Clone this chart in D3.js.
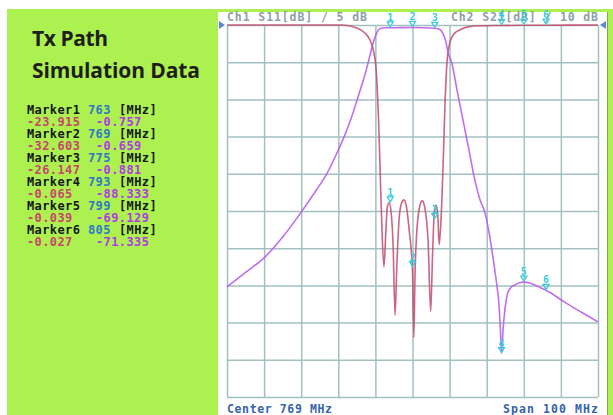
<!DOCTYPE html>
<html>
<head>
    <title>Tx Path Simulation Data</title>
    <script src="https://d3js.org/d3.v7.min.js"></script>
    <style>
        body { margin: 0; background: #fff; }
        .mono { font-family: "DejaVu Sans Mono", "Liberation Mono", monospace; font-weight: bold; }
    </style>
</head>
<body>
<div id="chart"></div>
<script>
    // Frequency axis (MHz)
    var centerFreq = 769, spanFreq = 100;

    // S11 trace (dB)
    var s11Freq = [719, 740, 750, 754, 756, 757.5, 758.5, 759.2, 759.8, 760.3, 760.8, 761.3, 761.8, 762.2, 762.7, 763.2, 763.8, 764.3, 764.8, 765.4, 766, 766.7, 767.4, 768.2, 768.7, 769, 769.35, 769.7, 770.2, 770.9, 771.6, 772.3, 773.2, 773.9, 774.4, 774.9, 775.3, 775.8, 776.2, 776.7, 777.3, 777.8, 778.3, 779, 780, 782, 784, 787, 793, 799, 805, 819];
    var s11Db   = [0, 0, 0, -0.4, -1, -2, -3.5, -6, -12, -20, -28, -32.5, -28, -24.5, -23.9, -25, -30, -39, -32, -26, -24, -23.5, -24.5, -28, -30.5, -33, -42, -33, -27.5, -24.5, -23.6, -24.5, -29, -38.5, -31, -25, -24.2, -25.5, -29.5, -26, -18, -10, -5, -2.5, -1.3, -0.6, -0.25, -0.1, -0.065, -0.039, -0.027, 0];

    // S21 trace (dB)
    var s21Freq = [719, 724, 729, 734, 739, 743, 746, 749, 751, 752.5, 754.3, 756, 757.2, 758.1, 759, 759.7, 760.5, 761.5, 763, 769, 775, 776.4, 777.3, 778, 778.6, 779.6, 781, 782.6, 784.2, 785.8, 787.2, 788.5, 789.5, 790.4, 791.2, 791.8, 792.3, 792.7, 793, 793.4, 793.9, 794.7, 795.5, 796.6, 797.8, 799, 801, 803, 805, 810, 815, 819];
    var s21Db   = [-70.4, -66.5, -62.6, -57, -50.3, -44.5, -39.8, -33.6, -29, -25, -19.4, -14, -9.5, -5.9, -3, -1.5, -0.9, -0.75, -0.757, -0.659, -0.881, -1.2, -2.5, -4.5, -7.5, -10.2, -17.5, -25.5, -33.5, -41.7, -47, -50.3, -55, -60.5, -66, -70.4, -75, -82, -88.3, -82, -76.6, -72, -70.6, -69.9, -69.3, -69.13, -69.5, -70.4, -71.3, -74.5, -77.5, -79.8];

    // Markers
    var markerNames = ['1', '2', '3', '4', '5', '6'];
    var markerFreq  = [763, 769, 775, 793, 799, 805];
    var markerS11   = [-23.915, -32.603, -26.147, -0.065, -0.039, -0.027];
    var markerS21   = [-0.757, -0.659, -0.881, -88.333, -69.129, -71.335];

    var W = 613, H = 415;
    var green = '#adf150';
    var s11Color = '#c24a6c', s21Color = '#b455ec', markColor = '#3ccbdc';
    var gridColor = '#a2c0c0';

    var svg = d3.select('#chart').append('svg')
        .attr('width', W).attr('height', H);

    svg.append('rect').attr('x', 7).attr('y', 9).attr('width', W - 7).attr('height', H - 9).attr('fill', green);
    svg.append('rect').attr('x', 218).attr('y', 12).attr('width', 389).attr('height', H - 12).attr('fill', '#fff');
    svg.append('line').attr('x1', 607.5).attr('x2', 607.5).attr('y1', 12).attr('y2', H)
        .attr('stroke', '#7fa848').attr('stroke-width', 1);

    // Title
    var title = svg.append('g').attr('fill', '#1e1e1e')
        .style('font-family', '"Open Sans", "Noto Sans", sans-serif')
        .style('font-weight', 'bold').style('font-size', '21px');
    title.append('text').attr('x', 32).attr('y', 46).attr('textLength', 76).text('Tx Path');
    title.append('text').attr('x', 32).attr('y', 78).attr('textLength', 168).text('Simulation Data');

    // Marker readout
    var readout = svg.append('g').attr('class', 'mono').style('font-size', '12px').style('letter-spacing', '0.4px');
    markerNames.forEach(function(name, i) {
        var yb = 114 + i * 24;
        readout.append('text').attr('x', 27).attr('y', yb).attr('fill', '#151515').text('Marker' + name);
        readout.append('text').attr('x', 88).attr('y', yb).attr('fill', '#2f78c8').text(markerFreq[i]);
        readout.append('text').attr('x', 119).attr('y', yb).attr('fill', '#151515').text('[MHz]');
        readout.append('text').attr('x', 27).attr('y', yb + 12).attr('fill', '#c8456a').text(markerS11[i].toFixed(3));
        readout.append('text').attr('x', 96).attr('y', yb + 12).attr('fill', '#b038e6').text(markerS21[i].toFixed(3));
    });

    // Scales
    var x = d3.scaleLinear().domain([centerFreq - spanFreq / 2, centerFreq + spanFreq / 2]).range([227, 598]);
    var y1 = d3.scaleLinear().domain([-50, 0]).range([397, 25]);
    var y2 = d3.scaleLinear().domain([-100, 0]).range([397, 25]);

    // Grid via axes
    var gx = svg.append('g').attr('transform', 'translate(0,397)')
        .call(d3.axisBottom(x).tickValues(d3.range(719, 820, 10)).tickSize(-372).tickFormat(''));
    var gy = svg.append('g').attr('transform', 'translate(227,0)')
        .call(d3.axisLeft(y1).tickValues(d3.range(-50, 1, 5)).tickSize(-371).tickFormat(''));
    [gx, gy].forEach(function(g) {
        g.select('.domain').remove();
        g.selectAll('line').attr('stroke', gridColor).attr('stroke-width', 1.5);
    });

    // Header / footer
    var hdr = svg.append('g').attr('class', 'mono').style('font-size', '11.5px').attr('fill', '#8da0a8');
    hdr.append('text').attr('x', 227).attr('y', 21).attr('textLength', 140).text('Ch1 S11[dB] / 5 dB');
    hdr.append('text').attr('x', 451).attr('y', 21).attr('textLength', 147).text('Ch2 S21[dB] / 10 dB');

    var ftr = svg.append('g').attr('class', 'mono').style('font-size', '11.5px').attr('fill', '#3464aa');
    ftr.append('text').attr('x', 227).attr('y', 413).attr('textLength', 105).text('Center 769 MHz');
    ftr.append('text').attr('x', 503).attr('y', 413).attr('textLength', 95).text('Span 100 MHz');

    // Reference level indicators
    svg.append('path').attr('d', 'M219,21 L225,25 L219,29 Z').attr('fill', '#5a8ad0');
    svg.append('path').attr('d', 'M606,21 L600,25 L606,29 Z').attr('fill', '#5a8ad0');

    // Traces
    var s11Line = d3.line().x(function(d) { return x(d[0]); }).y(function(d) { return y1(d[1]); }).curve(d3.curveMonotoneX);
    var s21Line = d3.line().x(function(d) { return x(d[0]); }).y(function(d) { return y2(d[1]); }).curve(d3.curveMonotoneX);

    svg.append('path').datum(d3.zip(s11Freq, s11Db))
        .attr('fill', 'none').attr('stroke', s11Color).attr('stroke-width', 1.6).attr('stroke-opacity', 0.85)
        .attr('d', s11Line);
    svg.append('path').datum(d3.zip(s21Freq, s21Db))
        .attr('fill', 'none').attr('stroke', s21Color).attr('stroke-width', 1.6).attr('stroke-opacity', 0.85)
        .attr('d', s21Line);

    // Marker glyphs on both traces
    function drawMarker(px, py, name) {
        var g = svg.append('g').attr('transform', 'translate(' + px + ',' + py + ')');
        g.append('path').attr('d', 'M-3,-6 L3,-6 L0,-1 Z').attr('fill', 'none')
            .attr('stroke', markColor).attr('stroke-width', 1.3);
        g.append('text').attr('class', 'mono').attr('text-anchor', 'middle').attr('y', -7)
            .style('font-size', '10px').attr('fill', markColor).text(name);
    }
    markerNames.forEach(function(name, i) {
        drawMarker(x(markerFreq[i]), y1(markerS11[i]), name);
        drawMarker(x(markerFreq[i]), y2(markerS21[i]), name);
    });
</script>
</body>
</html>
